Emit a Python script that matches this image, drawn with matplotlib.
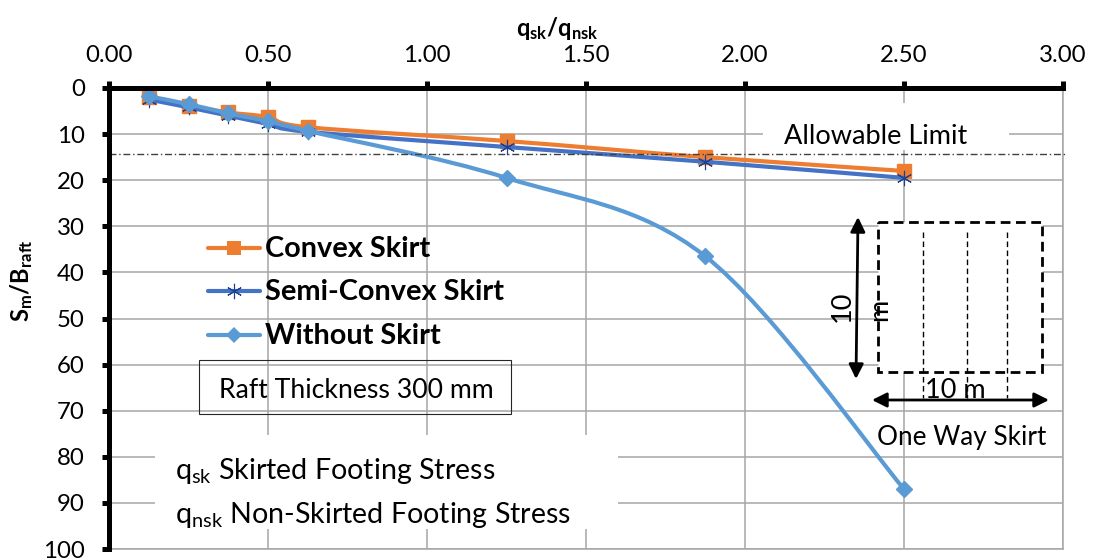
import numpy as np
import matplotlib
matplotlib.use("Agg")
import matplotlib.pyplot as plt
from matplotlib.path import Path
from matplotlib.patches import PathPatch, Rectangle, FancyArrowPatch
from matplotlib.lines import Line2D
from matplotlib.transforms import Affine2D

plt.rcParams['font.family'] = ['Lato', 'DejaVu Sans']
plt.rcParams['mathtext.fontset'] = 'custom'
plt.rcParams['mathtext.rm'] = 'Lato'
plt.rcParams['mathtext.bf'] = 'Lato:bold'
plt.rcParams['mathtext.default'] = 'regular'

# ---- data ----
stress_ratio = [0.125, 0.25, 0.375, 0.5, 0.625, 1.25, 1.875, 2.5]
convex = [2.0, 3.8, 5.3, 6.3, 8.5, 11.5, 15.0, 18.0]
semi_convex = [2.5, 4.2, 6.0, 7.8, 9.5, 12.8, 16.0, 19.5]
without = [1.8, 3.5, 5.5, 7.2, 9.3, 19.5, 36.5, 87.0]
x_ticks = [0, 0.5, 1, 1.5, 2, 2.5, 3]
y_ticks = list(range(0, 101, 10))
series_names = ['Convex Skirt', 'Semi-Convex Skirt', 'Without Skirt']

W, H = 1095, 560
fig = plt.figure(figsize=(W / 100, H / 100), dpi=100)
ax = fig.add_axes([109 / W, 1 - 549 / H, (1063 - 109) / W, (549 - 88) / H])
ax.set_xlim(0, 3)
ax.set_ylim(100, 0)
px = Affine2D().scale(1 / W, -1 / H).translate(0, 1) + fig.transFigure

GRID = '#a6a6a6'
ax.set_axisbelow(True)
ax.grid(True, color=GRID, lw=1.1)
ax.set_xticks(x_ticks)
ax.set_xticklabels([f'{v:.2f}' for v in x_ticks])
ax.set_yticks(y_ticks)
ax.xaxis.tick_top()
ax.tick_params(axis='both', length=5, width=3.6, color='black', labelsize=17.3)
ax.tick_params(axis='x', pad=10.5)
ax.tick_params(axis='y', pad=12.5)
for s in ('top', 'left'):
    ax.spines[s].set_linewidth(3.6)
    ax.spines[s].set_color('black')
for s in ('bottom', 'right'):
    ax.spines[s].set_linewidth(1.1)
    ax.spines[s].set_color(GRID)
ax.spines['top'].set_zorder(5)
ax.spines['left'].set_zorder(5)


def smooth(xs, ys, color, lw, z):
    """Excel style smoothed line: Catmull-Rom segments through the data."""
    pts = np.column_stack([xs, ys])
    d = ax.transData.transform(pts)
    verts = [d[0]]
    codes = [Path.MOVETO]
    n = len(d)
    for i in range(n - 1):
        p0 = d[max(i - 1, 0)]
        p1, p2 = d[i], d[i + 1]
        p3 = d[min(i + 2, n - 1)]
        verts += [p1 + (p2 - p0) / 6, p2 - (p3 - p1) / 6, p2]
        codes += [Path.CURVE4] * 3
    ax.add_patch(PathPatch(Path(verts, codes), fill=False, ec=color, lw=lw,
                           transform=None, zorder=z, capstyle='round'))


ORANGE, BLUE, LIGHT = '#ed7d31', '#4472c4', '#5b9bd5'
STAR = '#1f3f8f'
LW = 3.0
smooth(stress_ratio, convex, ORANGE, LW, 3)
smooth(stress_ratio, semi_convex, BLUE, LW, 3.2)
smooth(stress_ratio, without, LIGHT, LW, 3.4)
ax.plot(stress_ratio, convex, ls='', marker='s', ms=10, mfc=ORANGE, mec=ORANGE, zorder=3.1)
ax.plot(stress_ratio, semi_convex, ls='', marker=(6, 2, 0), ms=11, mec=STAR, mew=0.8, zorder=3.3)
ax.plot(stress_ratio, without, ls='', marker='D', ms=8, mfc=LIGHT, mec=LIGHT, zorder=3.5)

# allowable limit line extends a little beyond the plot
ax.add_line(Line2D([109, 1067], [153.5, 153.5], transform=px, color='#404040', lw=1.0,
                   ls=(0, (5, 2, 1, 2)), clip_on=False, zorder=4))

# axis titles
fig.text(557 / W, 1 - 28 / H, r'$\mathbf{q_{sk}/q_{nsk}}$', ha='center', va='center', fontsize=17)
fig.text(22 / W, 1 - 281 / H, r'$\mathbf{S_m/B_{raft}}$', ha='center', va='center', rotation=90, fontsize=17)

# legend
rows = [(248, ORANGE, 's', ORANGE, 10, 0), (291, BLUE, (6, 2, 0), STAR, 11, 0.8), (335, LIGHT, 'D', LIGHT, 8, 0)]
for name, (yy, col, mk, mc, ms, mew) in zip(series_names, rows):
    ax.add_line(Line2D([208, 260], [yy, yy], transform=px, color=col, lw=LW, solid_capstyle='round', zorder=6))
    ax.add_line(Line2D([234], [yy], transform=px, ls='', marker=mk, ms=ms, mfc=mc, mec=mc, mew=mew, zorder=6.1))
    fig.text(265 / W, 1 - (yy + 1) / H, name, ha='left', va='center', fontsize=20.8, fontweight='bold', zorder=7)

# text boxes
fig.add_artist(Rectangle((198.5, 360), 312.5, 54, transform=px, fill=False, ec='#262626', lw=0.8))
fig.text(219 / W, 1 - 390 / H, 'Raft Thickness 300 mm', ha='left', va='center', fontsize=19.2)
ax.add_patch(Rectangle((155, 435), 463, 94, transform=px, fc='white', ec='none', zorder=2))
fig.text(175 / W, 1 - 471 / H, r'$q_{sk}$ Skirted Footing Stress', ha='left', va='center', fontsize=20.6)
fig.text(175 / W, 1 - 515 / H, r'$q_{nsk}$ Non-Skirted Footing Stress', ha='left', va='center', fontsize=20.6)
ax.add_patch(Rectangle((763, 103), 246, 47, transform=px, fc='white', ec='none', zorder=2))
fig.text(875.5 / W, 1 - 136 / H, 'Allowable Limit', ha='center', va='center', fontsize=19.5)

# skirt sketch
ax.add_patch(Rectangle((878, 222), 164, 150, transform=px, fc='white', ec='black', lw=2.0,
                       ls=(0, (3.5, 2)), zorder=2.5, clip_on=False))
for xp in (923, 967, 1007):
    ax.add_line(Line2D([xp, xp], [232, 398], transform=px, color='black', lw=1.0,
                       ls=(0, (4, 2.5)), zorder=2.6))
for a, b in (((858, 217), (856, 379)), ((872, 400), (1049, 400))):
    fig.add_artist(FancyArrowPatch(a, b, transform=px, arrowstyle='<|-|>', mutation_scale=22,
                                   color='black', lw=2.0, shrinkA=0, shrinkB=0))
fig.text(955 / W, 1 - 391 / H, '10 m', ha='center', va='center', fontsize=19.5, zorder=7)
fig.text(842 / W, 1 - 306 / H, '10', ha='center', va='center', rotation=90, fontsize=19.5, zorder=7)
fig.text(880 / W, 1 - 310 / H, 'm', ha='center', va='center', rotation=90, fontsize=19.5, zorder=7)
fig.text(962 / W, 1 - 438 / H, 'One Way Skirt', ha='center', va='center', fontsize=18.8, zorder=7)

fig.savefig('out.png', dpi=100)
